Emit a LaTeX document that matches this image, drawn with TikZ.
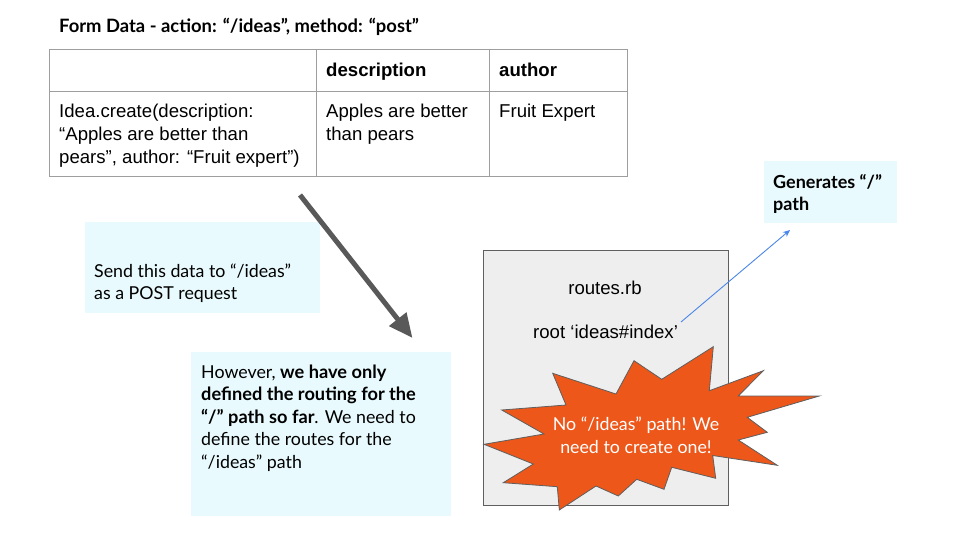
\documentclass[tikz,border=0pt]{standalone}
\usepackage{fontspec}
\setmainfont{Lato}
\newfontfamily\arialfont{Liberation Sans}
\usetikzlibrary{arrows.meta}

\definecolor{notefill}{RGB}{232,250,253}
\definecolor{tablegrid}{RGB}{158,158,158}
\definecolor{routesfill}{RGB}{238,238,238}
\definecolor{routesline}{RGB}{95,95,95}
\definecolor{burstfill}{RGB}{238,87,26}
\definecolor{flowgray}{RGB}{89,89,89}
\definecolor{linkblue}{RGB}{74,134,232}

% multi-line nodes below are anchored at the baseline of their last line
\tikzset{
  lato/.style={font=\fontsize{17.8}{22.5}\selectfont},
  latobold/.style={font=\fontsize{18}{22.5}\selectfont\bfseries},
  titlefont/.style={font=\fontsize{18.4}{22.5}\selectfont\bfseries},
  arial/.style={font=\arialfont\fontsize{18.6}{23}\selectfont},
  arialbold/.style={font=\arialfont\fontsize{18.6}{23}\selectfont\bfseries},
  txt/.style={inner sep=0pt, anchor=base west, align=left},
  notebox/.style={fill=notefill, draw=none, anchor=north west, inner sep=0pt},
  gridline/.style={draw=tablegrid, line width=1pt},
  flowarrow/.style={draw=flowgray, line width=5pt,
    -{Triangle[length=24pt,width=21pt]}},
  linkarrow/.style={draw=linkblue, line width=0.9pt,
    -{Stealth[length=7pt,width=6pt]}},
}
\newcommand{\emphbold}[1]{{\fontsize{18.2}{22.5}\selectfont\bfseries #1}}

\begin{document}
\begin{tikzpicture}[x=1pt,y=-1pt]
\useasboundingbox (0,0) rectangle (960,540);

% heading above the table
\node[txt, titlefont] (title) at (59,33)
  {Form Data - action: “/ideas”, method: “post”};

% form data table
\draw[gridline] (49,50) rectangle (627,177);
\draw[gridline] (49,92) -- (627,92);
\draw[gridline] (316,50) -- (316,177);
\draw[gridline] (489,50) -- (489,177);
\node[txt, arialbold] (hdesc) at (326,77) {description};
\node[txt, arialbold] (hauth) at (499,77) {author};
\node[txt, arial] (call) at (59,164)
  {Idea.create(description:\\“Apples are better than\\pears”, author: “Fruit expert”)};
\node[txt, arial] (vdesc) at (326,141) {Apples are better\\than pears};
\node[txt, arial] (vauth) at (499,118) {Fruit Expert};

% note boxes
\node[notebox, minimum width=235pt, minimum height=91pt] (sendbox) at (85,222) {};
\node[txt, lato] (sendtxt) at (94,299.5)
  {Send this data to “/ideas”\\as a POST request};

\node[notebox, minimum width=260pt, minimum height=164pt] (howbox) at (191,352) {};
\node[txt, lato] (howtxt) at (201,468)
  {However, \emphbold{we have only}\\\emphbold{defined the routing for the}\\\emphbold{“/” path so far}. We need to\\define the routes for the\\“/ideas” path};

\node[notebox, minimum width=133pt, minimum height=62pt] (genbox) at (764,161) {};
\node[txt, latobold] (gentxt) at (773,210.5) {Generates “/”\\path};

% routes file
\node[fill=routesfill, draw=routesline, line width=0.9pt, anchor=north west,
      minimum width=245pt, minimum height=255pt, inner sep=0pt] (routes) at (483,250) {};
\node[arial, inner sep=0pt, anchor=base] (rfile) at (605,294) {routes.rb};
\node[txt, arial] (rroot) at (533,338) {root ‘ideas\#index’};

% starburst warning
\filldraw[fill=burstfill, draw=routesline, line width=0.8pt, line join=miter]
  (552.7,373.3) -- (616,394) -- (634,360.7) -- (661.7,379.3) -- (713.3,346.7)
  -- (709.3,390.7) -- (763.3,370.7) -- (738.3,396) -- (819.3,396)
  -- (747.3,417.3) -- (767.3,432.3) -- (738.3,440) -- (777.3,465.3)
  -- (712.7,455.5) -- (715.7,478.3) -- (671.7,467.3) -- (664,489.3)
  -- (636.7,479.3) -- (618.3,496) -- (596,486) -- (559.3,510)
  -- (557.3,486.7) -- (503.3,482.7) -- (533.3,464) -- (484,444.3)
  -- (544,434) -- (501.7,410) -- (566,405) -- cycle;
\node[lato, text=white, align=center, inner sep=0pt, anchor=base] (burst) at (636,453)
  {No “/ideas” path! We\\need to create one!};

% connectors
\coordinate (flowstart) at (300,195);
\coordinate (flowend) at (412.5,338);
\draw[flowarrow] (flowstart) -- (flowend);

\coordinate (rootend) at (681,322);
\coordinate (genpoint) at (790,230);
\draw[linkarrow] (rootend) -- (genpoint);
\end{tikzpicture}
\end{document}
